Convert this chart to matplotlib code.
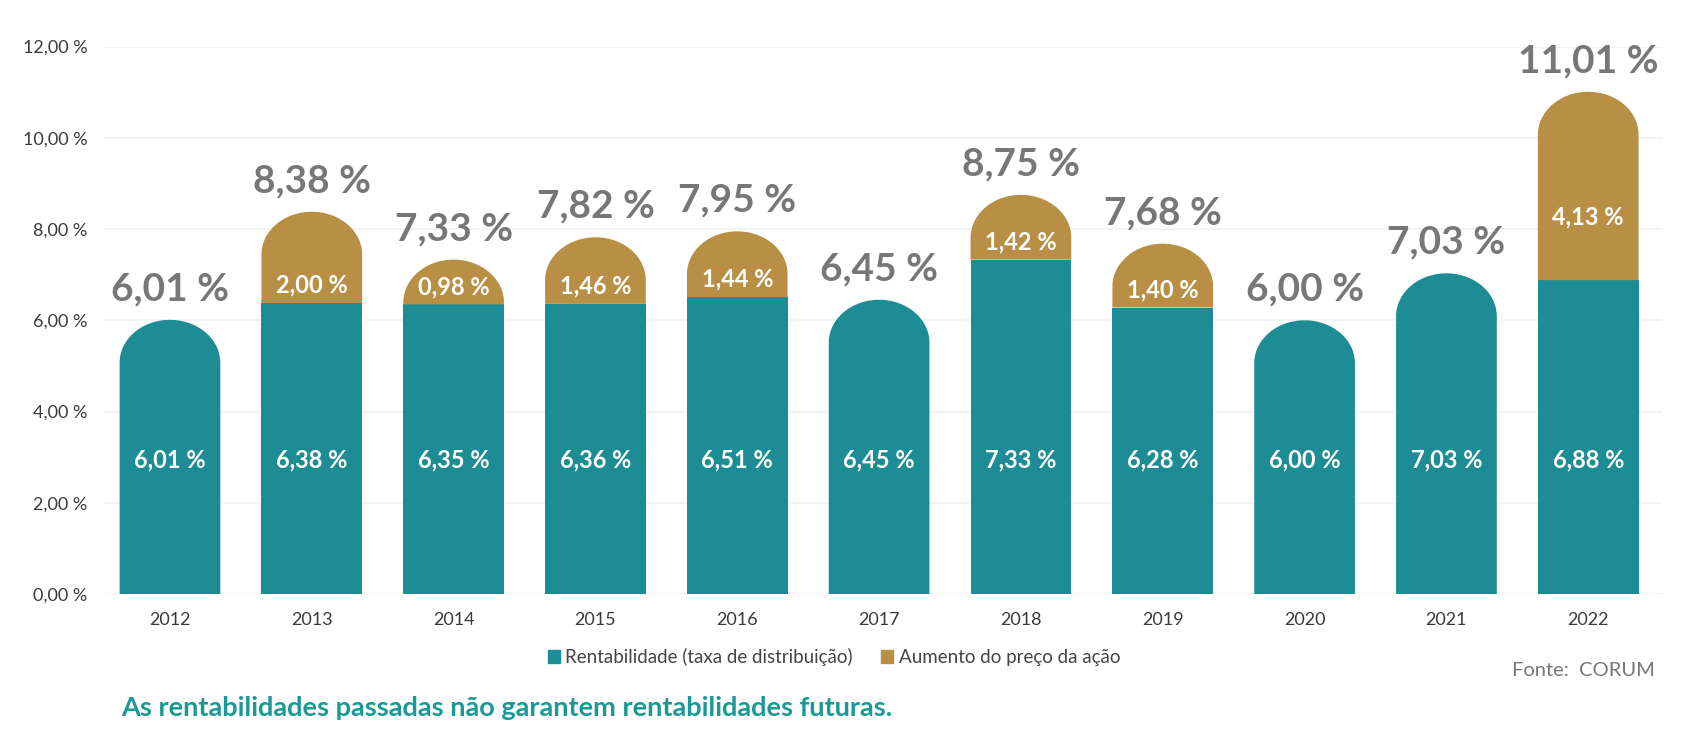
#!/usr/bin/env python3
"""CORUM yearly return: distribution rate + share-price increase, 2012-2022."""
import numpy as np

import matplotlib
matplotlib.use("Agg")
import matplotlib.pyplot as plt  # noqa: E402
from matplotlib.path import Path  # noqa: E402
from matplotlib.patches import PathPatch, Patch  # noqa: E402

plt.rcParams["font.family"] = ["Lato", "DejaVu Sans"]

years = ["2012", "2013", "2014", "2015", "2016", "2017", "2018", "2019",
         "2020", "2021", "2022"]
rentabilidade = [6.01, 6.38, 6.35, 6.36, 6.51, 6.45, 7.33, 6.28, 6.00, 7.03, 6.88]
aumento = [0.00, 2.00, 0.98, 1.46, 1.44, 0.00, 1.42, 1.40, 0.00, 0.00, 4.13]
yticks = [0, 2, 4, 6, 8, 10, 12]

TEAL = "#1d8c94"
GOLD = "#b88f45"
GREY = "#777777"
W = 0.71      # bar width (x units)
RY = 0.94     # cap height (y units)


def fmt(v):
    return f"{v:.2f}".replace(".", ",") + " %"


def capped(x, y0, y1, w=W, ry=RY):
    """bar outline from y0 to y1 with an elliptical top"""
    ry = min(ry, y1 - y0)
    t = np.linspace(0, np.pi, 60)
    arc = np.column_stack([x + w / 2 * np.cos(t), y1 - ry + ry * np.sin(t)])
    pts = np.vstack([[x - w / 2, y0], [x + w / 2, y0], [x + w / 2, y1 - ry],
                     arc, [x - w / 2, y0]])
    return Path(pts, closed=True)


fig = plt.figure(figsize=(16.99, 7.47), dpi=100)
ax = fig.add_axes([104 / 1699, 1 - 594 / 747, 1558 / 1699, 547.4 / 747])

x = np.arange(len(years))
for i, (r, a) in enumerate(zip(rentabilidade, aumento)):
    if a > 0:
        ax.bar(x[i], r, width=W, color=TEAL, zorder=2)
        ax.add_patch(PathPatch(capped(x[i], r, r + a), facecolor=GOLD,
                               edgecolor="none", zorder=2))
        ly = r + max(0.39, (a - 1.35) / 2)
        ax.text(x[i], ly, fmt(a), ha="center", va="center", color="white",
                fontsize=17, fontweight="bold", zorder=3)
    else:
        ax.add_patch(PathPatch(capped(x[i], 0, r), facecolor=TEAL,
                               edgecolor="none", zorder=2))
    ax.text(x[i], 2.95, fmt(r), ha="center", va="center", color="white",
            fontsize=17, fontweight="bold", zorder=3)
    ax.annotate(fmt(r + a), (x[i], r + a), xytext=(0, 14),
                textcoords="offset points", ha="center", va="baseline",
                color=GREY, fontsize=28, fontweight="bold", annotation_clip=False)

ax.set_xlim(-0.465, 10.52)
ax.set_ylim(0, 12)
ax.set_yticks(yticks)
ax.set_yticklabels([fmt(v) for v in yticks])
ax.set_xticks(x)
ax.set_xticklabels(years)
ax.tick_params(axis="both", length=0, labelsize=13, labelcolor="#3a3a3a")
ax.tick_params(axis="y", pad=12)
ax.tick_params(axis="x", pad=13)
ax.grid(axis="y", color="#f1f1f1", linewidth=1.2, zorder=0)
ax.set_axisbelow(True)
for s in ax.spines.values():
    s.set_visible(False)

handles = [Patch(color=TEAL, label="Rentabilidade (taxa de distribuição)"),
           Patch(color=GOLD, label="Aumento do preço da ação")]
fig.legend(handles=handles, loc="center", bbox_to_anchor=(834 / 1699, 1 - 657 / 747),
           ncol=2, frameon=False, fontsize=13.5, handlelength=0.65, handleheight=0.65,
           handletextpad=0.3, columnspacing=1.5, labelcolor="#444444")

fig.text(1655 / 1699, 1 - 671 / 747, "Fonte:  CORUM", ha="right", va="center",
         fontsize=14.5, color=GREY)
fig.text(121 / 1699, 1 - 708 / 747,
         "As rentabilidades passadas não garantem rentabilidades futuras.",
         ha="left", va="center", fontsize=19.5, fontweight="bold", color="#1a9a96")

fig.savefig("out.png", dpi=100)
